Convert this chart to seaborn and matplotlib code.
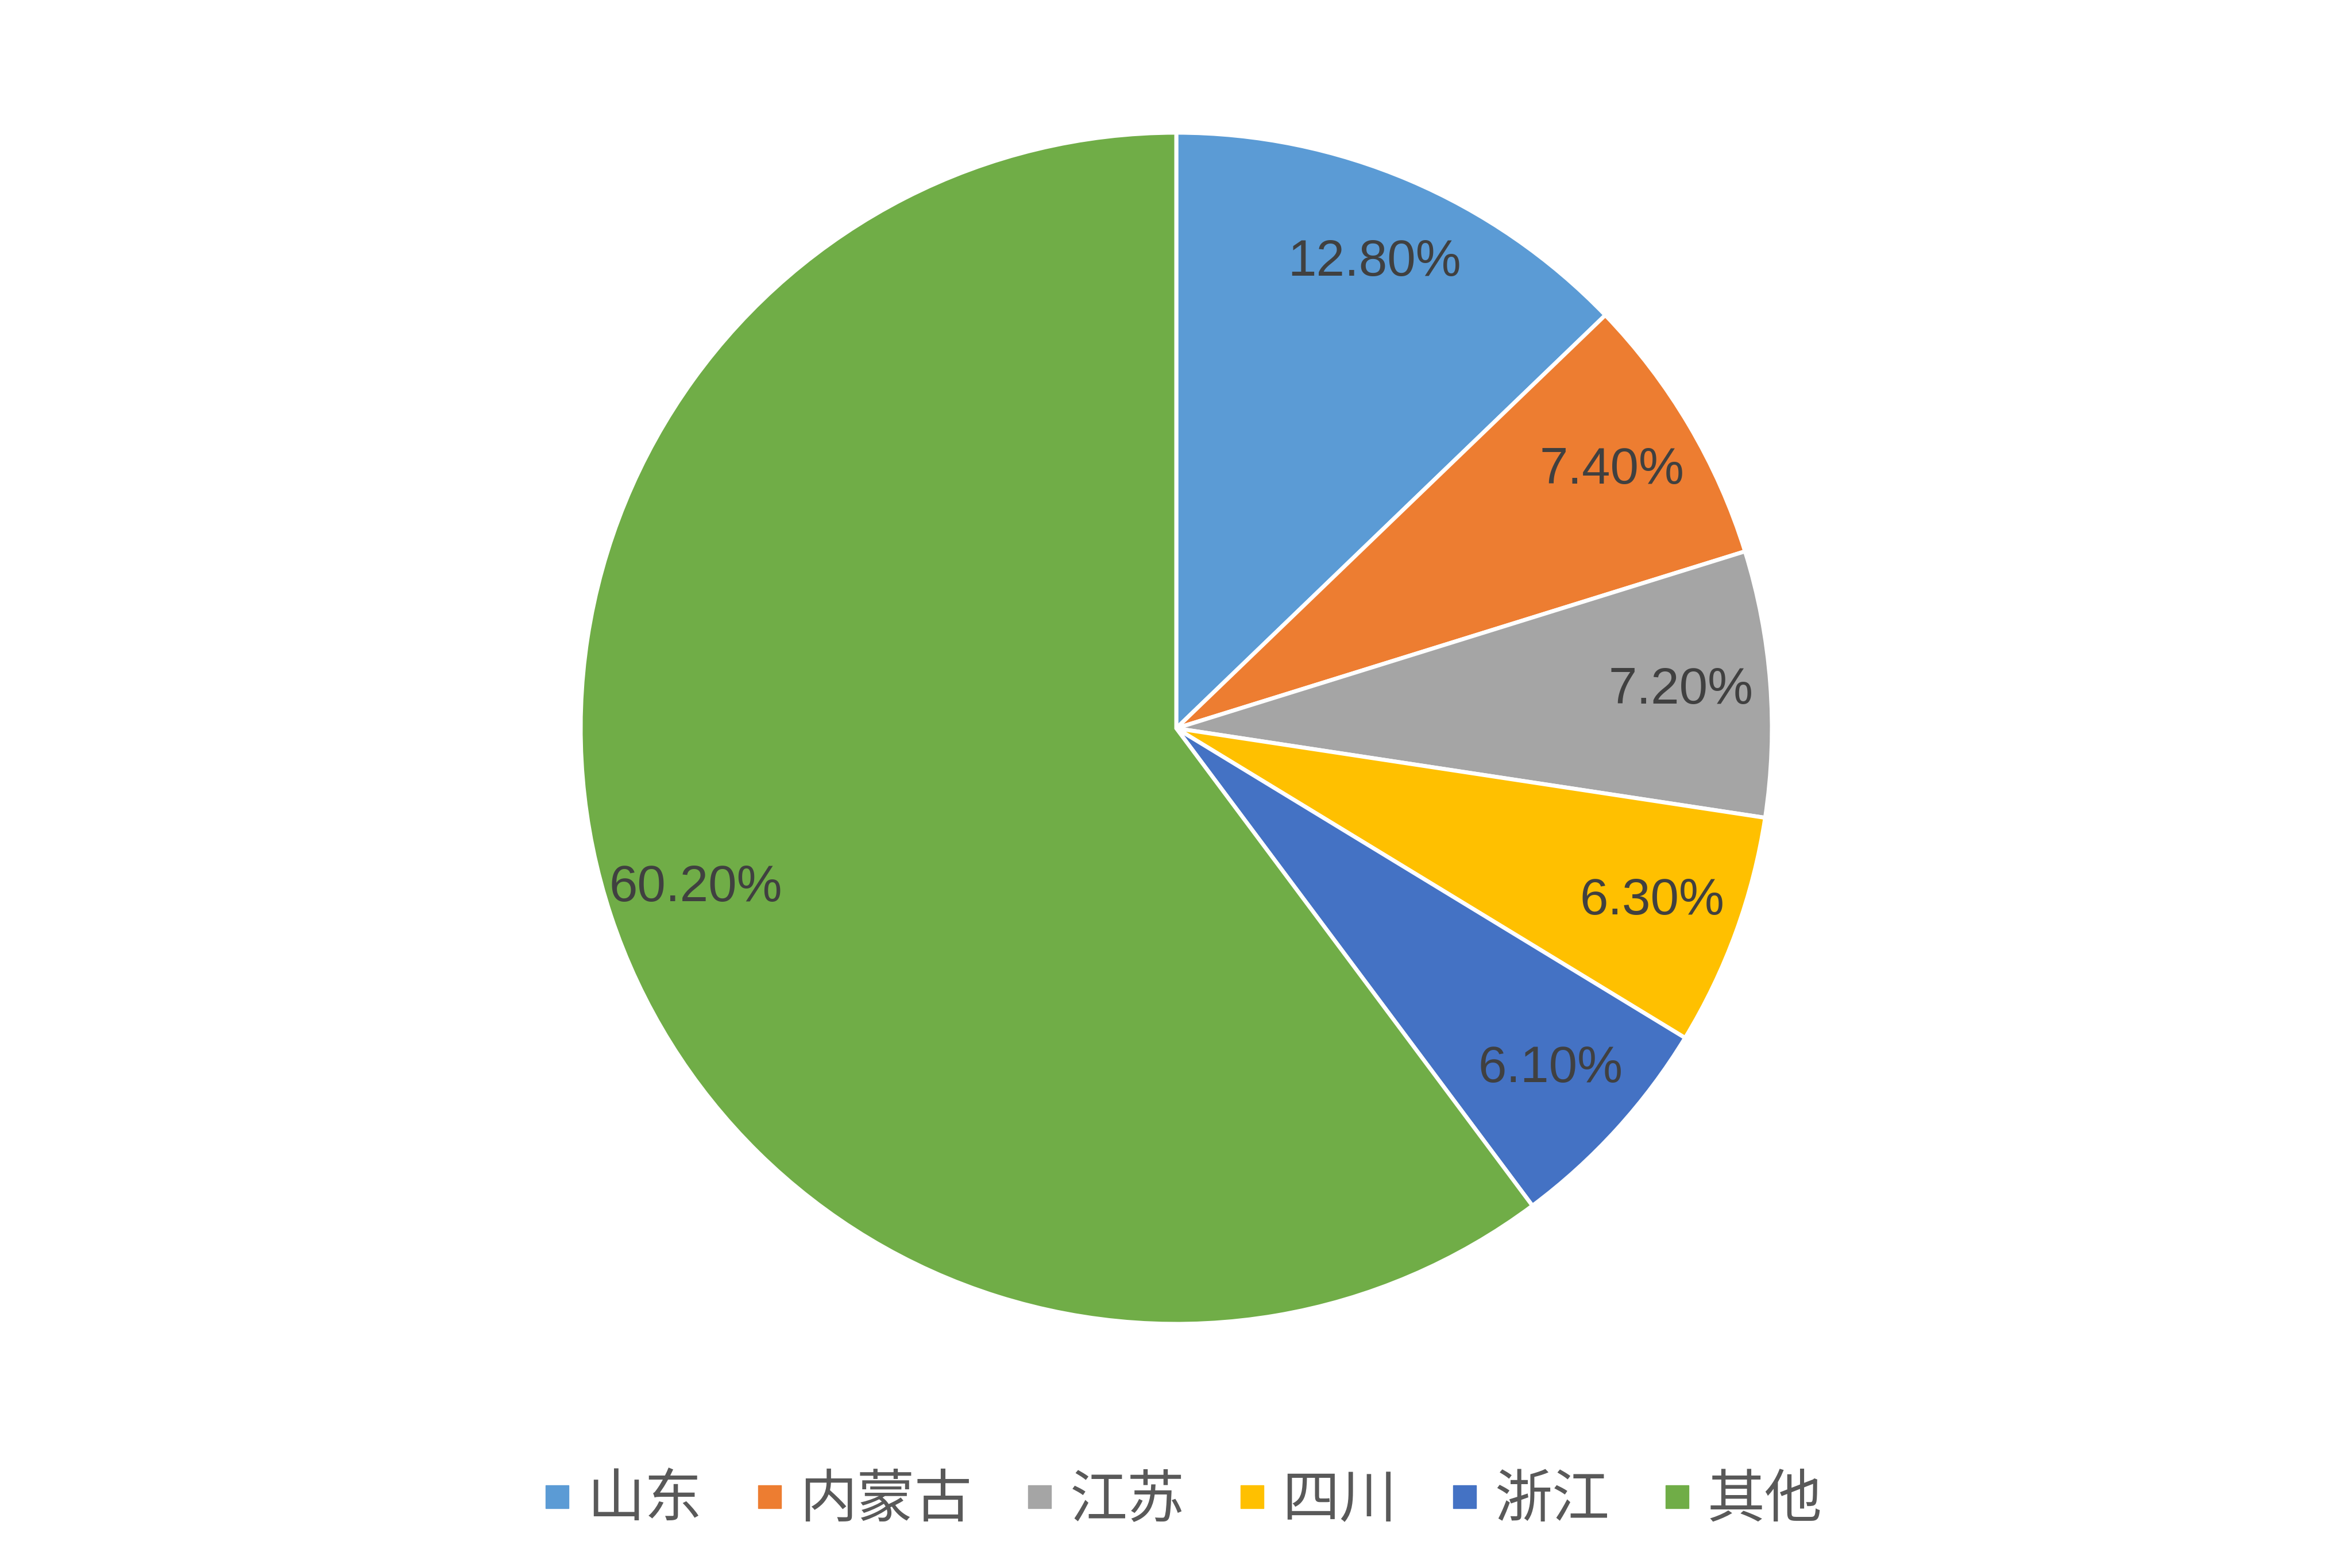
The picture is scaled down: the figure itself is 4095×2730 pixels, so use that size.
import matplotlib
matplotlib.use("Agg")
import matplotlib.pyplot as plt
from matplotlib.lines import Line2D
import seaborn as sns

categories = ["山东", "内蒙古", "江苏", "四川", "浙江", "其他"]
values = [12.8, 7.4, 7.2, 6.3, 6.1, 60.2]
colors = ["#5B9BD5", "#ED7D31", "#A5A5A5", "#FFC000", "#4472C4", "#70AD47"]

sns.set_theme(style="white")
plt.rcParams['font.family'] = ['Liberation Sans', 'Noto Sans CJK SC', 'DejaVu Sans']

W, H = 4095, 2730
fig = plt.figure(figsize=(W / 100, H / 100), dpi=100)
ax = fig.add_axes([0, 0, 1, 1])

wedges, texts, autotexts = ax.pie(
    values, colors=sns.color_palette(colors), startangle=90, counterclock=False,
    center=(2048, H - 1268), radius=1037,
    autopct=lambda p: f"{p:.2f}%", pctdistance=0.85,
    wedgeprops=dict(edgecolor="white", linewidth=5),
    textprops=dict(color="#404040", fontsize=64, family=['Liberation Sans', 'DejaVu Sans']),
)
ax.set_xlim(0, W)
ax.set_ylim(0, H)
ax.set_aspect("equal")
ax.axis("off")

handles = [Line2D([0], [0], marker="s", linestyle="none", markersize=29.5,
                  markerfacecolor=c, markeredgecolor=c) for c in colors]
leg = ax.legend(handles, categories, loc="center", bbox_to_anchor=(2060 / W, 1 - 2612 / H),
                ncol=6, frameon=False, handlelength=0.45, handletextpad=0.3,
                columnspacing=0.95,
                prop=dict(family=['Noto Sans CJK SC', 'DejaVu Sans'], size=72))
for t in leg.get_texts():
    t.set_color("#595959")

fig.savefig("out.png", dpi=100, facecolor="white")
